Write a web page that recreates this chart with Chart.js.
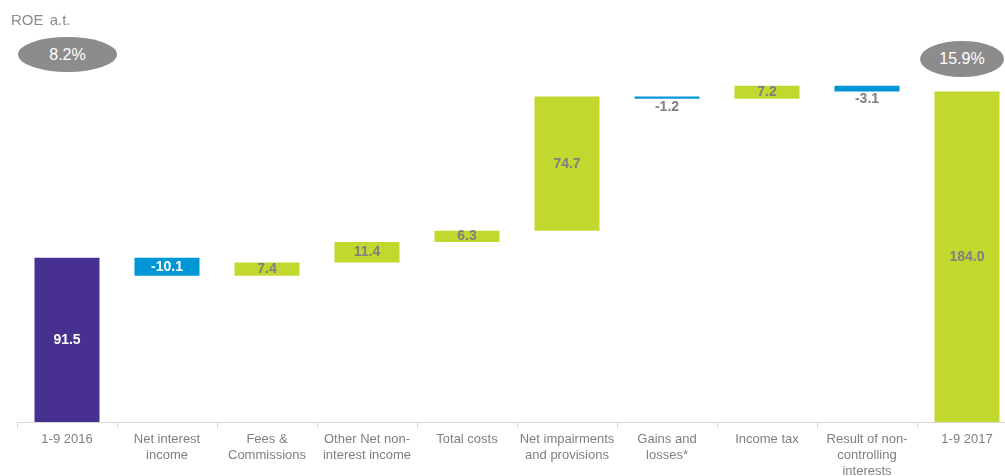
<!DOCTYPE html>
<html>
<head>
<meta charset="utf-8">
<script src="https://cdn.jsdelivr.net/npm/chart.js@4"></script>
<style>
  html, body { margin: 0; padding: 0; background: #fff; overflow: hidden; width: 1005px; height: 476px; }
  #wrap { position: absolute; left: 0; top: 0; width: 1020px; height: 476px; }
  .roe-title { position: absolute; left: 11px; top: 11px; font: 15px "Liberation Sans", Arial, sans-serif; color: #8c8c8c; word-spacing: 2px; }
  .roe { position: absolute; background: #8c8c8c; color: #fff; border-radius: 50%;
         font: 16px "Liberation Sans", Arial, sans-serif; display: flex; align-items: center; justify-content: center; }
</style>
</head>
<body>
<div id="wrap"><canvas id="chart" width="1020" height="476"></canvas></div>
<div class="roe-title">ROE a.t.</div>
<div class="roe" style="left:18px; top:37px; width:99px; height:35px;">8.2%</div>
<div class="roe" style="left:920px; top:41px; width:84px; height:36px;">15.9%</div>
<script>
const categories = [
  '1-9 2016',
  ['Net interest', 'income'],
  ['Fees &', 'Commissions'],
  ['Other Net non-', 'interest income'],
  'Total costs',
  ['Net impairments', 'and provisions'],
  ['Gains and', 'losses*'],
  'Income tax',
  ['Result of non-', 'controlling', 'interests'],
  '1-9 2017',
];
const startValue = 91.5;
const changes = [-10.1, 7.4, 11.4, 6.3, 74.7, -1.2, 7.2, -3.1];
const endValue = 184.0;

const PURPLE = '#47308f';
const BLUE = '#0096d6';
const GREEN = '#c3d82e';
const GREY = '#7f7f7f';

// floating bars from the running total
const ranges = [[0, startValue]];
const labels = [startValue];
const colors = [PURPLE];
let total = startValue;
changes.forEach((c) => {
  ranges.push([total, total + c]);
  labels.push(c);
  colors.push(c < 0 ? BLUE : GREEN);
  total += c;
});
ranges.push([0, endValue]);
labels.push(endValue);
colors.push(GREEN);

const valueLabels = {
  id: 'valueLabels',
  afterDatasetsDraw(chart) {
    const { ctx } = chart;
    const meta = chart.getDatasetMeta(0);
    ctx.save();
    ctx.font = 'bold 14px "Liberation Sans", Arial, sans-serif';
    ctx.textAlign = 'center';
    ctx.textBaseline = 'middle';
    meta.data.forEach((bar, i) => {
      const v = labels[i];
      const top = Math.min(bar.y, bar.base);
      const bottom = Math.max(bar.y, bar.base);
      const h = bottom - top;
      const txt = v.toFixed(1);
      if (h < 10) {
        ctx.fillStyle = GREY;
        ctx.fillText(txt, bar.x, bottom + 8);
      } else {
        ctx.fillStyle = colors[i] === GREEN ? GREY : '#fff';
        ctx.fillText(txt, bar.x, (top + bottom) / 2);
      }
    });
    ctx.restore();
  },
};

new Chart(document.getElementById('chart'), {
  type: 'bar',
  data: {
    labels: categories,
    datasets: [{
      data: ranges,
      backgroundColor: colors,
      borderWidth: 0,
      barPercentage: 0.65,
      categoryPercentage: 1,
    }],
  },
  options: {
    responsive: false,
    animation: false,
    layout: { padding: { left: 17, right: 3, top: 0, bottom: 0 } },
    plugins: {
      legend: { display: false },
      tooltip: { enabled: false },
    },
    scales: {
      x: {
        offset: true,
        grid: {
          offset: true,
          drawOnChartArea: false,
          drawTicks: true,
          tickLength: 6,
          color: '#d9d9d9',
        },
        border: { color: '#d9d9d9', width: 1 },
        ticks: {
          color: GREY,
          font: { family: '"Liberation Sans", Arial, sans-serif', size: 13 },
          padding: 4,
          maxRotation: 0,
          autoSkip: false,
        },
        afterFit(scale) { scale.height = 54; },
      },
      y: {
        display: false,
        min: 0,
        max: 235,
      },
    },
  },
  plugins: [valueLabels],
});
</script>
</body>
</html>
